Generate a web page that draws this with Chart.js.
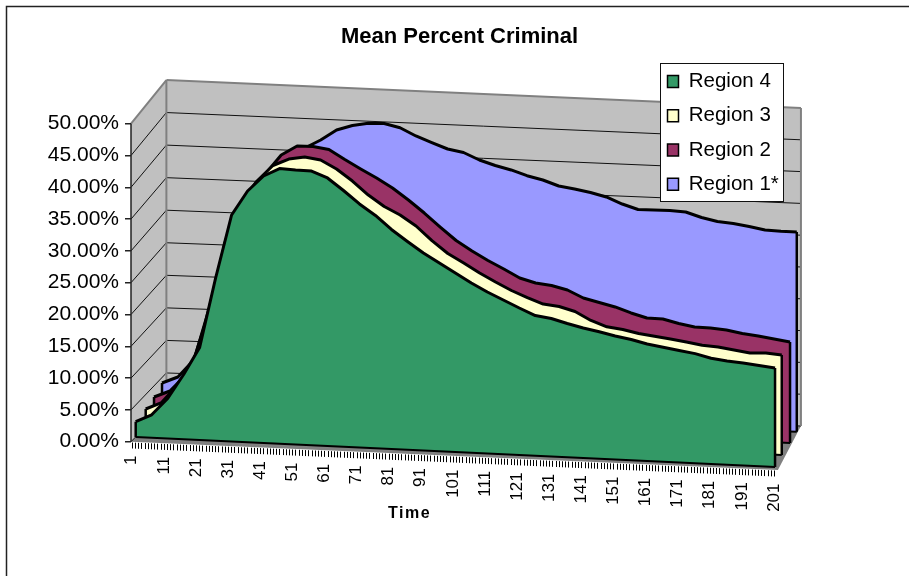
<!DOCTYPE html>
<html>
<head>
<meta charset="utf-8">
<title>Mean Percent Criminal</title>
<style>
  html, body { margin: 0; padding: 0; background: #fff; }
  canvas { display: block; }
</style>
<script src="https://cdn.jsdelivr.net/npm/chart.js@4/dist/chart.umd.js"></script>
</head>
<body>
<canvas id="chart" width="909" height="576"></canvas>
<script>
// Simulation time sampled every five steps.
const times = [1,6,11,16,21,26,31,36,41,46,51,56,61,66,71,76,81,86,91,96,101,106,111,116,121,126,131,136,141,146,151,156,161,166,171,176,181,186,191,196,201];

// Mean percent criminal per region.
const region4 = [2.39,3.59,6.25,10.12,14.45,25.43,35.39,39.26,41.72,43.0,42.89,42.85,41.88,40.04,38.05,36.37,34.3,32.54,30.86,29.41,27.97,26.52,25.23,24.1,22.97,21.91,21.56,20.9,20.31,19.84,19.3,18.87,18.28,17.88,17.5,17.13,16.52,16.21,16.02,15.74,15.47];
const region3 = [2.92,4.04,6.88,10.59,19.13,29.55,35.9,39.29,41.82,42.94,43.36,43.0,41.7,39.93,37.85,36.16,34.94,33.33,31.14,29.25,27.87,26.41,25.11,23.89,22.9,21.99,21.71,21.04,19.74,18.86,18.54,18.03,17.69,17.38,17.02,16.61,16.45,16.09,15.73,15.83,15.63];
const region2 = [3.28,4.32,6.91,11.86,22.73,32.05,35.9,38.81,41.88,43.38,43.4,43.03,41.56,40.18,38.87,37.4,35.63,33.69,31.6,29.59,28.05,26.66,25.43,24.12,23.44,23.15,22.54,21.39,20.78,20.18,19.34,18.65,18.59,17.99,17.54,17.48,17.27,16.82,16.52,16.15,15.78];
const region1 = [4.06,5.09,7.83,15.73,26.45,32.16,35.53,38.43,40.87,41.58,42.92,44.57,45.36,45.81,45.85,45.27,44.08,43.12,42.22,41.76,40.68,39.91,39.3,38.49,37.91,37.06,36.68,36.22,35.61,34.6,33.83,33.84,33.85,33.71,32.94,32.4,32.18,31.8,31.34,31.22,31.2];

const seriesNames = ['Region 4', 'Region 3', 'Region 2', 'Region 1*'];
const seriesValues = [region4, region3, region2, region1];
const seriesColors = ['#339966', '#FFFFCC', '#993366', '#9999FF'];

const timeTickLabels = ['1','11','21','31','41','51','61','71','81','91','101','111','121','131','141','151','161','171','181','191','201'];
const percentTicks = [0,5,10,15,20,25,30,35,40,45,50];

// Oblique projection: each region stands on its own depth plane. Shifts are in
// axis units at the first and last time step.
const depthPlanes = [
  { tL: 0,    tR: 0,    vL: 0.739, vR: -3.978 },
  { tL: 3.13, tR: 2.1,  vL: 2.201, vR: -2.091 },
  { tL: 5.73, tR: 4.69, vL: 3.726, vR: -0.204 },
  { tL: 8.23, tR: 6.8,  vL: 5.142, vR: 1.572 }
];
const NEAR_GAIN = 1.0063;
const FIRST = 1, LAST = 201;

const lerp = (a, b, f) => a + (b - a) * f;

function project(t, value, plane) {
  const f = (t - FIRST) / (LAST - FIRST);
  return {
    x: t + lerp(plane.tL, plane.tR, f),
    y: (value * NEAR_GAIN) + lerp(plane.vL, plane.vR, f)
  };
}

// Outline of each region: left edge, right edge, floor line and top curve, with
// the area filled between the top curve and the floor line.
const datasets = [];
const topIndex = [];
seriesNames.forEach((name, s) => {
  const plane = depthPlanes[s];
  const values = seriesValues[s];
  const base = times.map(t => project(t, 0, plane));
  const tops = times.map((t, i) => project(t, values[i], plane));
  const edge = { borderColor: '#000', pointRadius: 0, fill: false, clip: false, showLine: true };
  datasets.push({ ...edge, label: name + ' start', data: [base[0], tops[0]], borderWidth: 2.5 });
  datasets.push({ ...edge, label: name + ' end', data: [base[base.length - 1], tops[tops.length - 1]], borderWidth: 2.5 });
  const baseIndex = datasets.length;
  datasets.push({ ...edge, label: name + ' floor', data: base, borderWidth: 2 });
  topIndex.push(datasets.length);
  datasets.push({
    label: name, data: tops, borderColor: '#000', borderWidth: 3, borderJoinStyle: 'round',
    backgroundColor: seriesColors[s], pointRadius: 0, clip: false, showLine: true,
    fill: { target: baseIndex }, tension: 0
  });
});

// Box corners in axis units (time, percent).
const box = {
  frontBottom: { t: -0.47, v: 0 },    frontTop: { t: -0.47, v: 50 },
  backLeftBottom: { t: 10.6, v: 5.69 }, backLeftTop: { t: 10.6, v: 56.87 },
  backRightBottom: { t: 209.1, v: 2.47 }, backRightTop: { t: 209.1, v: 52.47 },
  floorCorner: { t: 201.9, v: -4.45 }
};

const wallsPlugin = {
  id: 'walls',
  afterLayout(chart) {
    // Legend box sits over the upper right of the back wall; the title is shifted over the plot.
    const legend = chart.legend;
    legend.left = 653.7; legend.right = 790;
    legend.top = 57.4; legend.bottom = 215;
    chart.titleBlock.left += 52; chart.titleBlock.right += 52;
  },
  beforeDraw(chart) {
    const { ctx, scales: { x, y } } = chart;
    const px = p => [x.getPixelForValue(p.t), y.getPixelForValue(p.v)];
    const poly = (pts, fill, stroke, w) => {
      ctx.beginPath();
      pts.forEach((p, i) => { const [a, b] = px(p); i ? ctx.lineTo(a, b) : ctx.moveTo(a, b); });
      ctx.closePath();
      if (fill) { ctx.fillStyle = fill; ctx.fill(); }
      if (stroke) { ctx.strokeStyle = stroke; ctx.lineWidth = w; ctx.stroke(); }
    };
    const seg = (a, b, color, w) => {
      const [x1, y1] = px(a), [x2, y2] = px(b);
      ctx.beginPath(); ctx.moveTo(x1, y1); ctx.lineTo(x2, y2);
      ctx.strokeStyle = color; ctx.lineWidth = w; ctx.stroke();
    };

    ctx.save();
    // Outer frame: only the top and left sides are in view.
    ctx.strokeStyle = '#222'; ctx.lineWidth = 1.5;
    ctx.beginPath(); ctx.moveTo(6.5, 576); ctx.lineTo(6.5, 6.5); ctx.lineTo(909, 6.5); ctx.stroke();

    // Walls and floor.
    poly([box.frontBottom, box.frontTop, box.backLeftTop, box.backLeftBottom], '#C0C0C0');
    poly([box.backLeftBottom, box.backLeftTop, box.backRightTop, box.backRightBottom], '#C0C0C0');
    poly([box.frontBottom, box.backLeftBottom, box.backRightBottom, box.floorCorner], '#808080');

    // Percent gridlines run along the side wall and across the back wall.
    percentTicks.slice(0, -1).forEach(v => {
      const f = v / 50;
      const a = { t: box.frontBottom.t, v };
      const b = { t: box.backLeftBottom.t, v: lerp(box.backLeftBottom.v, box.backLeftTop.v, f) };
      const c = { t: box.backRightBottom.t, v: lerp(box.backRightBottom.v, box.backRightTop.v, f) };
      seg(a, b, '#111', 1);
      seg(b, c, '#111', 1);
    });

    // Wall outlines.
    seg(box.frontTop, box.backLeftTop, '#808080', 2);
    seg(box.backLeftTop, box.backRightTop, '#808080', 2);
    seg(box.backLeftTop, box.backLeftBottom, '#808080', 2);
    seg(box.backRightTop, box.backRightBottom, '#808080', 2);
    seg(box.frontBottom, box.frontTop, '#222', 1.5);

    // Time axis runs along the sloping front edge of the floor.
    const tickTop = t => {
      const f = (t - FIRST) / (LAST - FIRST);
      return [lerp(131.7, 774, f), y.getPixelForValue(lerp(-0.126, -4.53, f))];
    };
    ctx.strokeStyle = '#000'; ctx.lineWidth = 1;
    for (let t = FIRST; t <= LAST; t++) {
      const [a, b] = tickTop(t);
      ctx.beginPath(); ctx.moveTo(Math.round(a) + 0.5, b); ctx.lineTo(Math.round(a) + 0.5, b + 6); ctx.stroke();
    }
    ctx.fillStyle = '#000';
    ctx.font = '17px "Liberation Sans", Arial, sans-serif';
    ctx.textAlign = 'right'; ctx.textBaseline = 'middle';
    timeTickLabels.forEach(label => {
      const [a, b] = tickTop(Number(label));
      ctx.save();
      ctx.translate(a, b + 13);
      ctx.rotate(-Math.PI / 2);
      ctx.fillText(label, 0, 0);
      ctx.restore();
    });
    ctx.font = 'bold 16px "Liberation Sans", Arial, sans-serif';
    ctx.textAlign = 'center';
    ctx.letterSpacing = '1.5px';
    ctx.fillText('Time', 409.5, 514);
    ctx.letterSpacing = '0px';

    // Legend panel.
    ctx.fillStyle = '#fff'; ctx.fillRect(660.5, 63.5, 123, 138);
    ctx.strokeStyle = '#111'; ctx.lineWidth = 1; ctx.strokeRect(660.5, 63.5, 123, 138);
    ctx.restore();
  }
};

new Chart(document.getElementById('chart'), {
  type: 'line',
  data: { datasets },
  plugins: [wallsPlugin],
  options: {
    responsive: false,
    animation: false,
    parsing: true,
    layout: { padding: { top: 0, left: 0, right: 94, bottom: 70.7 } },
    scales: {
      x: { type: 'linear', display: false, min: -0.47, max: 213.5 },
      y: {
        type: 'linear', min: -10, max: 60,
        afterBuildTicks: scale => { scale.ticks = percentTicks.map(value => ({ value })); },
        afterFit: scale => { scale.width = 131; },
        border: { display: false },
        grid: { drawOnChartArea: false, drawTicks: true, tickLength: 6, tickColor: '#222', lineWidth: 1.5 },
        ticks: {
          autoSkip: false, padding: 6, color: '#000',
          font: { family: '"Liberation Sans", Arial, sans-serif', size: 21 },
          callback: v => v.toFixed(2) + '%'
        }
      }
    },
    plugins: {
      tooltip: { enabled: false },
      title: {
        display: true, text: 'Mean Percent Criminal', color: '#000',
        font: { family: '"Liberation Sans", Arial, sans-serif', size: 22, weight: 'bold' },
        padding: { top: 24, bottom: 9.7 }
      },
      legend: {
        display: true, position: 'chartArea', align: 'start',
        labels: {
          boxWidth: 11, boxHeight: 12, padding: 13.8, color: '#000',
          font: { family: '"Liberation Sans", Arial, sans-serif', size: 20.5 },
          generateLabels: () => seriesNames.map((text, s) => ({
            text, fillStyle: seriesColors[s], strokeStyle: '#000', lineWidth: 1.5,
            hidden: false, datasetIndex: topIndex[s]
          }))
        }
      }
    }
  }
});
</script>
</body>
</html>
